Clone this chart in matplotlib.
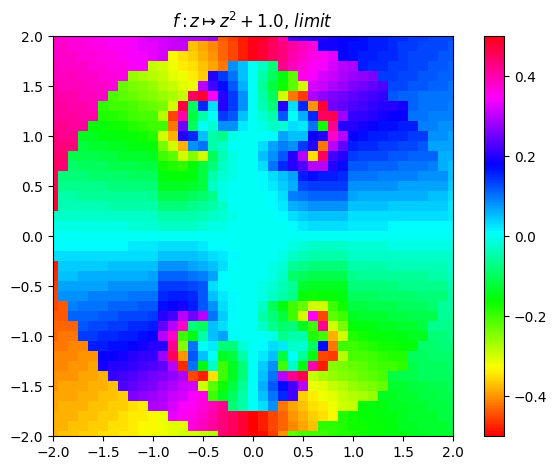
import numpy as np
import matplotlib
matplotlib.use("Agg")
import matplotlib.pyplot as plt

# values, one row per y, x runs -2.0 ... 2.0 in steps of 0.1
y_vals = [round(2.0 - 0.1 * i, 1) for i in range(41)]

rows_top = [
    [.38,.37,.37,.36,.36,.35,.35,.34,.34,.33,.32,.32,.31,.30,.30,.29,.28,-.44,-.46,-.48,.50,.49,.46,.40,.22,.21,.20,.20,.19,.18,.18,.17,.16,.16,.15,.15,.14,.14,.13,.13,.13],
    [.38,.38,.37,.37,.36,.36,.35,.35,.34,.33,.33,.32,.31,.31,-.37,-.39,-.41,-.43,-.45,-.48,.50,.48,.45,.43,.41,.39,.37,.19,.19,.18,.17,.17,.16,.16,.15,.14,.14,.13,.13,.13,.12],
    [.38,.38,.38,.37,.37,.36,.36,.35,.34,.34,.33,.32,-.33,-.35,-.36,-.38,-.40,-.43,-.45,-.48,.50,.48,.45,.43,.40,.38,.36,.35,.33,.18,.17,.16,.16,.15,.15,.14,.13,.13,.13,.12,.12],
    [.39,.38,.38,.38,.37,.37,.36,.36,.35,.34,-.29,-.30,-.32,-.34,-.35,-.37,-.39,-.42,.08,.05,.00,-.03,-.08,.42,.39,.37,.35,.34,.32,.30,.29,.16,.15,.15,.14,.14,.13,.13,.12,.12,.11],
    [.39,.39,.39,.38,.38,.37,.37,.36,-.26,-.27,-.28,-.29,-.31,-.32,-.34,-.36,.20,.14,.10,.05,.00,-.05,-.10,-.15,-.22,.36,.34,.32,.31,.29,.28,.27,.26,.14,.14,.13,.13,.12,.12,.11,.11],
    [.40,.39,.39,.39,.38,.38,.37,-.23,-.24,-.25,-.26,-.28,-.29,-.31,-.32,.30,.22,.17,.12,.06,.00,-.06,-.12,-.17,-.22,-.30,.32,.31,.29,.28,.26,.25,.24,.23,.13,.13,.12,.12,.11,.11,.10],
    [.40,.40,.40,.39,.39,.38,-.21,-.22,-.23,-.24,-.25,-.26,-.27,-.29,.45,.48,.35,.20,.14,.08,.00,-.05,-.10,-.30,-.42,-.46,.29,.27,.26,.25,.24,.23,.22,.21,.12,.11,.11,.10,.10,.10,.10],
    [.41,.41,.40,.40,.39,-.19,-.20,-.20,-.21,-.22,-.23,-.24,-.30,.47,-.10,.15,.03,.20,.14,.08,.00,-.04,-.08,.20,.03,.15,-.40,.48,.25,.24,.23,.22,.21,.20,.20,.19,.11,.10,.10,.10,.09],
    [.41,.41,.41,.40,.40,-.18,-.18,-.19,-.20,-.21,-.21,-.28,-.45,.40,-.12,-.05,.00,.14,.12,.05,.00,-.02,-.05,.12,.00,.06,.15,.45,.46,.28,.21,.21,.20,.19,.18,.18,.10,.10,.09,.09,.09],
    [.42,.42,.41,.41,-.16,-.16,-.17,-.17,-.18,-.19,-.20,-.20,-.42,.25,-.10,.00,-.02,.08,.08,.02,.00,-.01,-.03,-.02,.03,.02,.10,-.17,.42,.20,.20,.19,.18,.17,.17,.16,.16,.09,.09,.08,.08],
    [.43,.42,.42,-.14,-.14,-.15,-.15,-.16,-.16,-.17,-.18,-.30,-.38,.20,.15,.05,-.05,-.07,-.01,.00,.00,.00,.01,.07,.05,.05,.18,.20,.38,.30,.18,.17,.16,.16,.15,.15,.14,.14,.08,.08,.07],
    [.43,.43,.43,-.12,-.13,-.13,-.14,-.14,-.15,-.15,-.16,-.24,-.30,-.38,.08,.10,-.05,-.03,.00,.00,.00,.03,.07,.09,.08,.14,.20,-.42,.30,.24,.16,.15,.15,.14,.14,.13,.13,.12,.07,.07,.07],
    [.44,.44,-.11,-.11,-.11,-.12,-.12,-.13,-.13,-.13,-.14,-.20,-.22,-.30,-.25,-.30,-.10,-.04,-.01,.00,.00,.05,.08,.12,.20,.30,-.35,.45,.22,.20,.14,.13,.13,.13,.12,.12,.11,.11,.11,.06,.06],
    [.45,.44,-.09,-.10,-.10,-.10,-.11,-.11,-.11,-.12,-.12,-.17,-.18,-.19,-.16,-.12,-.08,-.03,-.01,.00,.00,.03,.10,.15,.20,.23,.30,.30,.20,.17,.12,.12,.11,.11,.11,.10,.10,.10,.09,.06,.05],
    [.45,-.08,-.08,-.08,-.09,-.09,-.09,-.09,-.10,-.10,-.10,-.15,-.16,-.16,-.15,-.12,-.05,-.02,-.01,.00,.00,.01,.03,.05,.07,.16,.17,.16,.16,.15,.10,.10,.10,.09,.09,.09,.09,.08,.08,.08,.05],
    [.46,-.07,-.07,-.07,-.07,-.07,-.08,-.08,-.08,-.08,-.08,-.14,-.14,-.14,-.13,-.12,-.03,-.01,.00,.00,.00,.01,.02,.04,.06,.13,.14,.14,.14,.14,.08,.08,.08,.08,.08,.07,.07,.07,.07,.07,.04],
    [.47,-.05,-.05,-.06,-.06,-.06,-.06,-.06,-.06,-.06,-.07,-.11,-.11,-.11,-.10,-.09,-.07,-.01,.00,.00,.00,.00,.01,.03,.09,.10,.11,.11,.11,.11,.07,.06,.06,.06,.06,.06,.06,.06,.05,.05,.03],
    [.48,-.04,-.04,-.04,-.04,-.04,-.05,-.05,-.05,-.05,-.05,-.08,-.08,-.08,-.07,-.06,-.05,-.03,.00,.00,.00,.00,.01,.02,.06,.07,.08,.08,.08,.08,.05,.05,.05,.05,.04,.04,.04,.04,.04,.04,.02],
    [-.03,-.03,-.03,-.03,-.03,-.03,-.03,-.03,-.03,-.03,-.03,-.05,-.05,-.05,-.05,-.04,-.03,-.02,-.01,.00,.00,.00,.00,.01,.03,.04,.05,.05,.05,.05,.03,.03,.03,.03,.03,.03,.03,.03,.03,.03,.02],
    [-.01,-.01,-.01,-.01,-.01,-.01,-.01,-.01,-.02,-.02,-.02,-.03,-.03,-.03,-.03,-.02,-.01,-.01,.00,.00,.00,.00,.00,.00,.01,.02,.03,.03,.03,.03,.02,.02,.02,.02,.01,.01,.01,.01,.01,.01,.01],
]

row_zero = [.00,.00,.00,.00,.00,.00,.00,.00,.00,.00,.00,.00,.00,.00,.00,.00,.00,.00,.00,.00,.00,.00,.00,.00,.00,.00,.00,.00,.00,.00,.00,.00,.00,.00,.00,.00,.00,.00,.00,.00,.00]

rows_bottom = [
    [.01,.01,.01,.01,.01,.01,.01,.01,.02,.02,.02,.03,.03,.03,.03,.02,.01,.01,.00,.00,.00,.00,.00,.00,-.01,-.02,-.03,-.03,-.03,-.03,-.02,-.02,-.02,-.02,-.01,-.01,-.01,-.01,-.01,-.01,-.01],
    [.03,.03,.03,.03,.03,.03,.03,.03,.03,.03,.03,.05,.05,.05,.05,.04,.03,.02,.01,.00,.00,.00,.00,-.01,-.03,-.04,-.05,-.05,-.05,-.05,-.03,-.03,-.03,-.03,-.03,-.03,-.03,-.03,-.03,-.03,-.02],
    [-.48,.04,.04,.04,.04,.04,.05,.05,.05,.05,.05,.08,.08,.08,.07,.06,.05,.03,.00,.00,.00,.00,-.01,-.02,-.06,-.07,-.08,-.08,-.08,-.08,-.05,-.05,-.05,-.05,-.04,-.04,-.04,-.04,-.04,-.04,-.02],
    [-.47,.05,.05,.06,.06,.06,.06,.06,.06,.06,.07,.11,.11,.11,.10,.09,.07,.01,.00,.00,.00,.00,-.01,-.03,-.09,-.10,-.11,-.11,-.11,-.11,-.07,-.06,-.06,-.06,-.06,-.06,-.06,-.06,-.05,-.05,-.03],
    [-.46,.07,.07,.07,.07,.07,.08,.08,.08,.08,.08,.14,.14,.14,.13,.12,.03,.01,.00,.00,.00,-.01,-.02,-.04,-.06,-.13,-.14,-.14,-.14,-.14,-.08,-.08,-.08,-.08,-.08,-.07,-.07,-.07,-.07,-.07,-.04],
    [-.45,.08,.08,.08,.09,.09,.09,.09,.10,.10,.10,.15,.16,.16,.15,.12,.05,.02,.01,.00,.00,-.01,-.03,-.05,-.07,-.16,-.17,-.16,-.16,-.15,-.10,-.10,-.10,-.09,-.09,-.09,-.09,-.08,-.08,-.08,-.05],
    [-.45,-.44,.09,.10,.10,.10,.11,.11,.11,.12,.12,.17,.18,.19,.16,.12,.08,.03,.01,.00,.00,-.03,-.10,-.15,-.20,-.23,-.30,-.30,-.20,-.17,-.12,-.12,-.11,-.11,-.11,-.10,-.10,-.10,-.09,-.06,-.05],
    [-.44,-.44,.11,.11,.11,.12,.12,.13,.13,.13,.14,.20,.22,.30,.25,.30,.10,.04,.01,.00,.00,-.05,-.08,-.12,-.20,-.30,.35,-.45,-.22,-.20,-.14,-.13,-.13,-.13,-.12,-.12,-.11,-.11,-.11,-.06,-.06],
    [-.43,-.43,-.43,.12,.13,.13,.14,.14,.15,.15,.16,.24,.30,.38,-.08,-.10,.05,.03,.00,.00,.00,-.03,-.07,-.09,-.08,-.14,-.20,.42,-.30,-.24,-.16,-.15,-.15,-.14,-.14,-.13,-.13,-.12,-.07,-.07,-.07],
    [-.43,-.42,-.42,.14,.14,.15,.15,.16,.16,.17,.18,.30,.38,-.20,-.15,-.05,.05,.07,.01,.00,.00,.00,-.01,-.07,-.05,-.05,-.18,-.20,-.38,-.30,-.18,-.17,-.16,-.16,-.15,-.15,-.14,-.14,-.08,-.08,-.07],
    [-.42,-.42,-.41,-.41,.16,.16,.17,.17,.18,.19,.20,.20,.42,-.25,.10,.00,.02,-.08,-.08,-.02,.00,.01,.03,.02,-.03,-.02,-.10,.17,-.42,-.20,-.20,-.19,-.18,-.17,-.17,-.16,-.16,-.09,-.09,-.08,-.08],
    [-.41,-.41,-.41,-.40,-.40,.18,.18,.19,.20,.21,.21,.28,.45,-.40,.12,.05,.00,-.14,-.12,-.05,.00,.02,.05,-.12,.00,-.06,-.15,-.45,-.46,-.28,-.21,-.21,-.20,-.19,-.18,-.18,-.10,-.10,-.09,-.09,-.09],
    [-.41,-.41,-.40,-.40,-.39,.19,.20,.20,.21,.22,.23,.24,.30,-.47,.10,-.15,-.03,-.20,-.14,-.08,.00,.04,.08,-.20,-.03,-.15,.40,-.48,-.25,-.24,-.23,-.22,-.21,-.20,-.20,-.19,-.11,-.10,-.10,-.10,-.09],
    [-.40,-.40,-.40,-.39,-.39,-.38,.21,.22,.23,.24,.25,.26,.27,.29,-.45,-.48,-.35,-.20,-.14,-.08,.00,.05,.10,.30,.42,.46,-.29,-.27,-.26,-.25,-.24,-.23,-.22,-.21,-.12,-.11,-.11,-.10,-.10,-.10,-.10],
    [-.40,-.39,-.39,-.39,-.38,-.38,-.37,.23,.24,.25,.26,.28,.29,.31,.32,-.30,-.22,-.17,-.12,-.06,.00,.06,.12,.17,.22,.30,-.32,-.31,-.29,-.28,-.26,-.25,-.24,-.23,-.13,-.13,-.12,-.12,-.11,-.11,-.10],
    [-.39,-.39,-.39,-.38,-.38,-.37,-.37,-.36,.26,.27,.28,.29,.31,.32,.34,.36,-.20,-.14,-.10,-.05,.00,.05,.10,.15,.22,-.36,-.34,-.32,-.31,-.29,-.28,-.27,-.26,-.14,-.14,-.13,-.13,-.12,-.12,-.11,-.11],
    [-.39,-.38,-.38,-.38,-.37,-.37,-.36,-.36,-.35,-.34,.29,.30,.32,.34,.35,.37,.39,.42,-.08,-.05,.00,.03,.08,-.42,-.39,-.37,-.35,-.34,-.32,-.30,-.29,-.16,-.15,-.15,-.14,-.14,-.13,-.13,-.12,-.12,-.11],
    [-.38,-.38,-.38,-.37,-.37,-.36,-.36,-.35,-.34,-.34,-.33,-.32,.33,.35,.36,.38,.40,.43,.45,.48,-.50,-.48,-.45,-.43,-.40,-.38,-.36,-.35,-.33,-.18,-.17,-.16,-.16,-.15,-.15,-.14,-.13,-.13,-.13,-.12,-.12],
    [-.38,-.38,-.37,-.37,-.36,-.36,-.35,-.35,-.34,-.33,-.33,-.32,-.31,-.31,.37,.39,.41,.43,.45,.48,-.50,-.48,-.45,-.43,-.41,-.39,-.37,-.19,-.19,-.18,-.17,-.17,-.16,-.16,-.15,-.14,-.14,-.13,-.13,-.13,-.12],
    [-.38,-.37,-.37,-.36,-.36,-.35,-.35,-.34,-.34,-.33,-.32,-.32,-.31,-.30,-.30,-.29,-.28,.44,.46,.48,-.50,-.49,-.46,-.40,-.22,-.21,-.20,-.20,-.19,-.18,-.18,-.17,-.16,-.16,-.15,-.15,-.14,-.14,-.13,-.13,-.13],
]

x_ticks = [-2.0, -1.5, -1.0, -0.5, 0.0, 0.5, 1.0, 1.5, 2.0]
y_ticks = [-2.0, -1.5, -1.0, -0.5, 0.0, 0.5, 1.0, 1.5, 2.0]
cbar_ticks = [-0.4, -0.2, 0.0, 0.2, 0.4]

field = np.array(rows_top + [row_zero] + rows_bottom)
print(field.shape, len(y_vals))

fig = plt.figure(figsize=(5.56, 4.70), dpi=100)
ax = fig.add_axes([53 / 556, 34 / 470, 400 / 556, 400 / 470])
cax = fig.add_axes([484 / 556, 34 / 470, 20 / 556, 400 / 470])

im = ax.imshow(field, cmap="hsv", vmin=-0.5, vmax=0.5, origin="upper",
               extent=[-2.05, 2.05, -2.05, 2.05], interpolation="nearest", aspect="equal")
ax.set_xlim(-2, 2)
ax.set_ylim(-2, 2)
ax.set_xticks(x_ticks)
ax.set_yticks(y_ticks)
ax.set_title(r"$f: z \mapsto z^{2} + 1.0$, $limit$")

cb = fig.colorbar(im, cax=cax)
cb.set_ticks(cbar_ticks)

fig.savefig("out.png", dpi=100)
